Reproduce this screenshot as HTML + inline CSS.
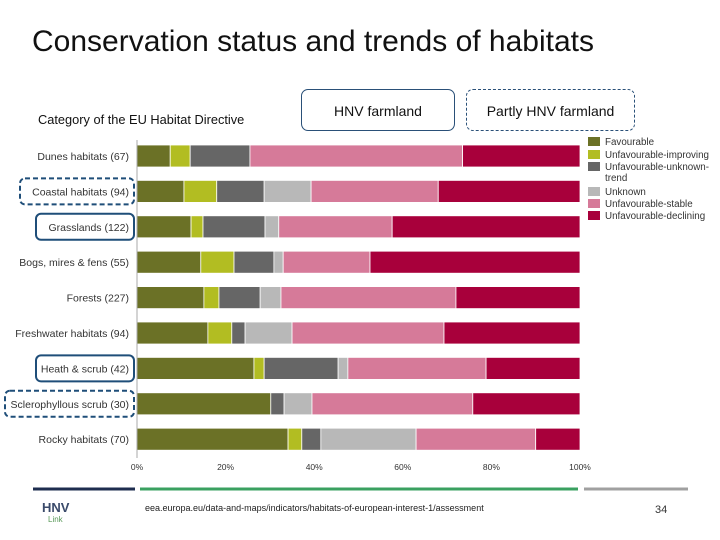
<!DOCTYPE html>
<html><head><meta charset="utf-8">
<style>
body{margin:0;width:720px;height:540px;background:#fff;position:relative;overflow:hidden;font-family:"Liberation Sans",sans-serif}
.abs{position:absolute}
</style></head>
<body>
<div class="abs" style="left:32px;top:25px;font-size:30px;color:#111">Conservation status and trends of habitats</div>
<div class="abs" style="left:38px;top:112px;font-size:12.8px;color:#111">Category of the EU Habitat Directive</div>
<div class="abs" style="left:301px;top:89px;width:152px;height:40px;border:1.5px solid #2a5078;border-radius:7px;font-size:14px;text-align:center;line-height:42px;color:#111">HNV farmland</div>
<div class="abs" style="left:466px;top:89px;width:167px;height:40px;border:1.5px dashed #2a5078;border-radius:7px;font-size:14px;text-align:center;line-height:42px;color:#111">Partly HNV farmland</div>
<svg class="abs" style="left:0;top:0" width="720" height="540" id="chart"></svg>
<div class="abs" style="left:145px;top:503px;font-size:9px;color:#222">eea.europa.eu/data-and-maps/indicators/habitats-of-european-interest-1/assessment</div>
<div class="abs" style="left:655px;top:504px;font-size:11px;color:#333">34</div>
<div class="abs" style="left:42px;top:500px;font-size:13px;font-weight:bold;color:#3a4a6a">HNV<div style="font-size:8px;color:#5a9a5a;font-weight:normal;margin-left:6px">Link</div></div>
<script>
const categories=["Dunes habitats (67)","Coastal habitats (94)","Grasslands (122)","Bogs, mires & fens (55)","Forests (227)","Freshwater habitats (94)","Heath & scrub (42)","Sclerophyllous scrub (30)","Rocky habitats (70)"];
const favourable=[7.5,10.6,12.2,14.4,15.1,16,26.4,30.2,34.1];
const improving=[4.5,7.4,2.7,7.5,3.4,5.4,2.3,0,3.1];
const unknownTrend=[13.5,10.7,14,9,9.3,3,16.7,3,4.3];
const unknown=[0,10.6,3.1,2.1,4.7,10.6,2.2,6.3,21.5];
const stable=[48,28.7,25.6,19.6,39.5,34.3,31.2,36.3,27];
const declining=[26.5,32,42.4,47.4,28,30.7,21.2,24.2,10];
const tickValues=[0,20,40,60,80,100];
const tickLabels=["0%","20%","40%","60%","80%","100%"];
const seriesNames=["Favourable","Unfavourable-improving","Unfavourable-unknown-trend","Unknown","Unfavourable-stable","Unfavourable-declining"];
const colors=["#6b7126","#b2bd22","#666666","#b8b8b8","#d67a99","#a8003b"];
const series=[favourable,improving,unknownTrend,unknown,stable,declining];
const NS="http://www.w3.org/2000/svg";
const svg=document.getElementById('chart');
const x0=137,x1=580,yTop=156,step=35.4,bh=22;
const xs=v=>x0+(x1-x0)*v/100;
const ys=i=>yTop+i*step;
function mk(t,a){const e=document.createElementNS(NS,t);for(const k in a)e.setAttribute(k,a[k]);svg.appendChild(e);return e;}
categories.forEach((c,i)=>{
  let acc=0;
  series.forEach((s,j)=>{
    const v=s[i];
    if(v>0){
      const r=mk('rect',{x:xs(acc),y:ys(i)-bh/2,width:xs(acc+v)-xs(acc),height:bh,fill:colors[j],stroke:'#fff','stroke-width':0.8});
      
      
    }
    acc+=v;
  });
  const t=mk('text',{x:129,y:ys(i)+4,'text-anchor':'end','font-size':10.5,fill:'#333'});
  t.textContent=c;
  
  
});
const ax=mk('line',{x1:x0,y1:140,x2:x0,y2:458,stroke:'#aaa','stroke-width':1});


tickValues.forEach((v,i)=>{
  const t=mk('text',{x:xs(v),y:470,'text-anchor':'middle','font-size':8.5,fill:'#333'});
  t.textContent=tickLabels[i];
  
  
});
const hb=[[1,20,true],[2,36,false],[6,36,false],[7,5,true]];
hb.forEach(h=>{
  const r=mk('rect',{x:h[1],y:ys(h[0])-13,width:134-h[1],height:26,rx:5,fill:'none',stroke:'#1f4e79','stroke-width':2,'stroke-dasharray':h[2]?'5,3':'none'});
  
  
});
const ly=[142,155,167,192,204,216];
seriesNames.forEach((n,j)=>{
  const r=mk('rect',{x:588,y:ly[j]-5,width:12,height:9,fill:colors[j]});
  
  
  const t=mk('text',{x:605,y:ly[j]+3,'font-size':9.8,fill:'#333'});
  if(j==2){t.textContent='Unfavourable-unknown-';const t2=mk('text',{x:605,y:ly[j]+14,'font-size':9.8,fill:'#333'});t2.textContent='trend';}
  else t.textContent=n;
  
  
});
[[33,135,'#1e2d4f'],[140,578,'#3aa060'],[584,688,'#a0a0a0']].forEach(l=>{
  const e=mk('line',{x1:l[0],y1:489,x2:l[1],y2:489,stroke:l[2],'stroke-width':3});
  
  
});
</script>
</body></html>
